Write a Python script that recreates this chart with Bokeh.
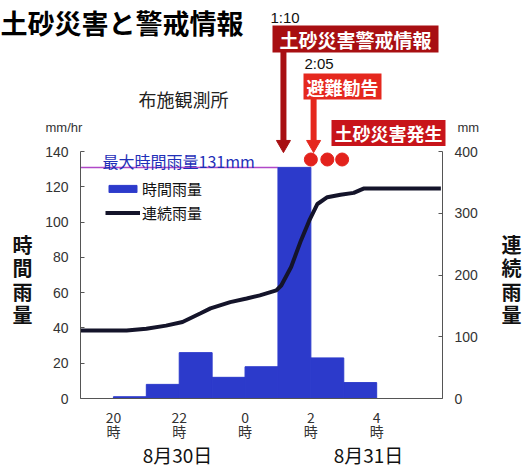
from bokeh.plotting import figure
from bokeh.models import (Range1d, LinearAxis, Label, Legend, LegendItem, FixedTicker)
from bokeh.embed import file_html
from bokeh.resources import INLINE

# ---------------- data ----------------
hour_starts = [20, 21, 22, 23, 24, 25, 26, 27]      # hours from 8/30 0:00
hourly_rain = [1, 8, 26, 12, 18, 131, 23, 9]        # mm/hr
cum_time = [19.0, 20.4, 21.0, 21.6, 22.1, 22.65, 22.95, 23.55, 24.05, 24.45,
            24.95, 25.1, 25.4, 25.7, 25.95, 26.2, 26.5, 26.9, 27.3, 27.6, 29.95]
cum_rain = [110, 110, 113, 118, 124, 138, 146, 156, 162, 167,
            175, 183, 213, 256, 288, 315, 326, 330, 333, 340, 340]   # mm
tick_hours = [20, 22, 24, 26, 28]
tick_labels = ["20\n時", "22\n時", "0\n時", "2\n時", "4\n時"]
left_ticks = [0, 20, 40, 60, 80, 100, 120, 140]
right_ticks = [0, 100, 200, 300, 400]
time_span = (19, 30)
max_hourly = 131
warning_time = 25 + 10 / 60      # 1:10  土砂災害警戒情報
advisory_time = 26 + 5 / 60      # 2:05  避難勧告
landslide_times = [26.0, 26.5, 26.95]

JP = "Noto Sans CJK JP"
NUM = "Liberation Sans"

W, H = 523, 470
# chart box on the canvas: x 80..442 for 19..30 h, y 398..151 for 0..140 mm/hr
PX_PER_H = 362 / 11
PX_PER_UNIT = 247 / 140
x0 = time_span[0] - 80 / PX_PER_H
x1 = time_span[1] + (W - 442) / PX_PER_H
y0 = -(H - 398) / PX_PER_UNIT
y1 = 398 / PX_PER_UNIT

p = figure(frame_width=W, frame_height=H,
           x_range=Range1d(x0, x1), y_range=Range1d(y0, y1),
           output_backend="svg", toolbar_location=None,
           min_border=0, outline_line_color=None,
           background_fill_color="white", border_fill_color="white")
p.grid.visible = False
p.extra_y_ranges = {"cum": Range1d(y0 * 400 / 140, y1 * 400 / 140)}


def vy(py):
    """canvas pixel row -> left-axis data value"""
    return (398 - py) / PX_PER_UNIT


# axes
yl = p.yaxis[0]
yl.fixed_location = time_span[0]
yl.ticker = FixedTicker(ticks=left_ticks)
yl.bounds = (0, 140)
yl.major_tick_in = 4
yl.major_tick_out = 0
yl.minor_tick_line_color = None
yl.major_label_standoff = 12
yl.major_label_text_font = NUM
yl.major_label_text_font_size = "14px"
yl.major_label_text_color = "#333333"
yl.axis_line_color = "#555555"
yl.major_tick_line_color = "#555555"

xb = p.xaxis[0]
xb.fixed_location = 0
xb.ticker = FixedTicker(ticks=tick_hours)
xb.bounds = time_span
xb.major_label_overrides = dict(zip(tick_hours, tick_labels))
xb.major_tick_in = 0
xb.major_tick_out = 0
xb.minor_tick_line_color = None
xb.major_label_standoff = 8
xb.major_label_text_font = JP
xb.major_label_text_font_size = "14px"
xb.major_label_text_color = "#333333"
xb.major_label_text_line_height = 0.72
xb.axis_line_color = "#555555"

yr = LinearAxis(y_range_name="cum", ticker=FixedTicker(ticks=right_ticks),
                bounds=(0, 400), fixed_location=time_span[1])
yr.major_tick_in = 4
yr.major_tick_out = 0
yr.minor_tick_line_color = None
yr.major_label_standoff = 12
yr.major_label_text_font = NUM
yr.major_label_text_font_size = "14px"
yr.major_label_text_color = "#333333"
yr.axis_line_color = "#555555"
yr.major_tick_line_color = "#555555"
p.add_layout(yr, "right")

# max hourly rainfall reference line
peak_i = hourly_rain.index(max(hourly_rain))
p.segment(x0=[time_span[0]], y0=[max_hourly], x1=[hour_starts[peak_i]], y1=[max_hourly],
          line_color="#b048c8", line_width=1.5)

bars = p.quad(left=hour_starts, right=[h + 1 for h in hour_starts],
              top=hourly_rain, bottom=0,
              fill_color="#2c3acb", line_color="#2c3acb")
line = p.line(cum_time, cum_rain, y_range_name="cum",
              line_color="#14142a", line_width=4)

p.scatter(landslide_times, [vy(159)] * len(landslide_times), size=13,
          fill_color="#e3221c", line_color="#e3221c")

# arrows (shaft + head)
for t, c, top in [(warning_time, "#a80f12", 48), (advisory_time, "#e5281e", 97)]:
    p.segment(x0=[t], y0=[vy(top)], x1=[t], y1=[vy(140)], line_color=c, line_width=6)
    p.scatter([t], [vy(144)], marker="inverted_triangle", size=14,
              fill_color=c, line_color=c)

legend = Legend(items=[LegendItem(label="時間雨量", renderers=[bars]),
                       LegendItem(label="連続雨量", renderers=[line])],
                location=(105, H - 223), margin=0, padding=0, spacing=3,
                glyph_width=35, glyph_height=9, label_standoff=2,
                label_text_font=JP, label_text_font_size="15px",
                label_text_color="#111111", label_height=19,
                border_line_color=None, background_fill_alpha=0)
p.add_layout(legend)


def lab(text, px, py, size, color="#111111", font=JP, style="normal",
        align="left", bg=None, pad=0, lh=1.2):
    kw = {}
    if bg is not None:
        kw = dict(background_fill_color=bg, padding=pad)
    p.add_layout(Label(x=px, y=H - py, x_units="screen", y_units="screen",
                       text=text, text_font=font, text_font_size=size,
                       text_color=color, text_font_style=style,
                       text_align=align, text_baseline="middle",
                       text_line_height=lh, **kw))


lab("土砂災害と警戒情報", 0, 22, "27px", "#000000", style="bold")
lab("布施観測所", 183, 98, "18px", "#222222", align="center")
lab("mm/hr", 45, 127, "13px", "#333333", font=NUM)
lab("mm", 457, 127, "13px", "#333333", font=NUM)
lab("時\n間\n雨\n量", 22, 279, "20px", "#111111", style="bold", align="center", lh=0.8)
lab("連\n続\n雨\n量", 511, 279, "20px", "#111111", style="bold", align="center", lh=0.8)
lab("8月30日", 177, 454, "19px", "#111111", align="center")
lab("8月31日", 368, 454, "19px", "#111111", align="center")
lab("最大時間雨量131mm", 102, 160, "16px", "#1f2fb8")
lab("1:10", 270, 17, "15px", "#111111", font=NUM)
lab("2:05", 304, 63, "15px", "#111111", font=NUM)
lab("土砂災害警戒情報", 272, 38.5, "19px", "#ffffff", style="bold", bg="#a80f12", pad=(7, 0))
lab("避難勧告", 303, 86, "18px", "#ffffff", style="bold", bg="#e5281e", pad=(3, 0))
lab("土砂災害発生", 331, 132.5, "18px", "#ffffff", style="bold", bg="#c8141a", pad=(3, 0))

open("out.html", "w").write(file_html(p, INLINE))
